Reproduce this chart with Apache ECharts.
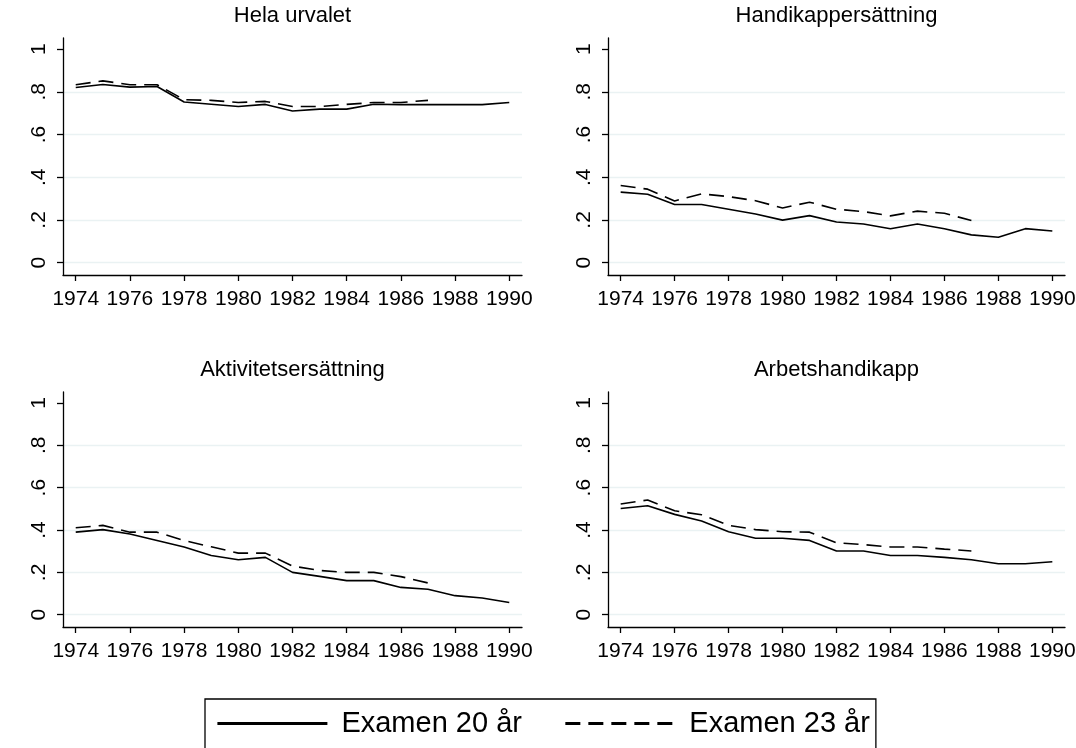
<!DOCTYPE html>
<html lang="sv">
<head>
<meta charset="utf-8">
<title>Andel per examensår</title>
<script src="https://cdn.jsdelivr.net/npm/echarts@6/dist/echarts.min.js"></script>
</head>
<body style="margin:0">
<div id="chart" style="width:1076px;height:748px;"></div>
<script type="text/javascript">
    var years = [1974, 1975, 1976, 1977, 1978, 1979, 1980, 1981, 1982, 1983, 1984, 1985, 1986, 1987, 1988, 1989, 1990];
    var yearTicks = [1974, 1976, 1978, 1980, 1982, 1984, 1986, 1988, 1990];
    var yTicks = [0, 0.2, 0.4, 0.6, 0.8, 1];
    var gridTicks = [0, 0.2, 0.4, 0.6, 0.8];
    var panelTitles = ['Hela urvalet', 'Handikappersättning', 'Aktivitetsersättning', 'Arbetshandikapp'];
    var seriesNames = ['Examen 20 år', 'Examen 23 år'];

    // Examen 20 år: 1974-1990, Examen 23 år: 1974-1987
    var hela20 = [0.82, 0.834, 0.822, 0.825, 0.752, 0.742, 0.731, 0.741, 0.71, 0.719, 0.719, 0.742, 0.74, 0.74, 0.74, 0.74, 0.75];
    var hela23 = [0.833, 0.851, 0.833, 0.833, 0.763, 0.76, 0.75, 0.755, 0.731, 0.731, 0.741, 0.75, 0.75, 0.76];
    var handikapp20 = [0.33, 0.32, 0.272, 0.272, 0.25, 0.228, 0.199, 0.22, 0.19, 0.181, 0.159, 0.181, 0.159, 0.13, 0.119, 0.159, 0.148];
    var handikapp23 = [0.361, 0.344, 0.289, 0.322, 0.309, 0.29, 0.256, 0.283, 0.25, 0.239, 0.219, 0.241, 0.231, 0.197];
    var aktivitet20 = [0.39, 0.402, 0.381, 0.351, 0.32, 0.28, 0.26, 0.271, 0.2, 0.181, 0.161, 0.161, 0.129, 0.12, 0.09, 0.079, 0.058];
    var aktivitet23 = [0.411, 0.422, 0.39, 0.39, 0.35, 0.321, 0.291, 0.291, 0.23, 0.209, 0.2, 0.2, 0.18, 0.15];
    var arbets20 = [0.502, 0.515, 0.474, 0.443, 0.392, 0.361, 0.361, 0.351, 0.301, 0.301, 0.28, 0.28, 0.271, 0.26, 0.241, 0.241, 0.25];
    var arbets23 = [0.523, 0.542, 0.491, 0.472, 0.422, 0.402, 0.392, 0.39, 0.34, 0.331, 0.32, 0.32, 0.31, 0.301];

    var panelData = [[hela20, hela23], [handikapp20, handikapp23], [aktivitet20, aktivitet23], [arbets20, arbets23]];

    var font = 'Liberation Sans, Arial, sans-serif';
    var grids = [
        {left: 63, top: 38, width: 459, height: 237},
        {left: 608, top: 38, width: 457, height: 237},
        {left: 63, top: 392, width: 459, height: 235},
        {left: 608, top: 392, width: 457, height: 235}
    ];

    function pairs(vals) {
        return vals.map(function (v, i) { return [years[i], v]; });
    }

    var option = {
        backgroundColor: '#fff',
        animation: false,
        title: [],
        grid: [],
        xAxis: [],
        yAxis: [],
        series: [],
        legend: {
            data: seriesNames,
            left: 205,
            top: 699,
            orient: 'horizontal',
            borderColor: '#000',
            borderWidth: 1.3,
            padding: [10, 6, 60, 11],
            itemWidth: 110,
            itemHeight: 29,
            itemGap: 42,
            selectedMode: false,
            lineStyle: {width: 2.8},
            itemStyle: {color: 'rgba(0,0,0,0)', borderColor: 'rgba(0,0,0,0)', borderWidth: 0},
            textStyle: {fontSize: 29, color: '#000', fontFamily: font, padding: [0, 0, 0, 9]}
        }
    };

    grids.forEach(function (g, i) {
        option.grid.push({left: g.left, top: g.top, width: g.width, height: g.height, outerBoundsMode: 'none'});
        option.title.push({
            text: panelTitles[i],
            left: g.left + g.width / 2,
            top: g.top - 33,
            textAlign: 'center',
            padding: 0,
            textStyle: {fontSize: 22, fontWeight: 'normal', color: '#000', fontFamily: font}
        });
        option.xAxis.push({
            type: 'value',
            gridIndex: i,
            min: 1973.53,
            max: 1990.47,
            axisLine: {onZero: false, lineStyle: {color: '#000', width: 1.3}},
            axisTick: {customValues: yearTicks, length: 6, lineStyle: {color: '#000', width: 1.3}},
            axisLabel: {
                customValues: yearTicks, fontSize: 21, color: '#000', margin: 14, fontFamily: font,
                formatter: function (v) { return String(v); }
            },
            splitLine: {show: false}
        });
        option.yAxis.push({
            type: 'value',
            gridIndex: i,
            min: -0.058,
            max: 1.052,
            axisLine: {show: true, onZero: false, lineStyle: {color: '#000', width: 1.3}},
            axisTick: {show: true, customValues: yTicks, length: 6, lineStyle: {color: '#000', width: 1.3}},
            axisLabel: {
                customValues: yTicks, rotate: 90, fontSize: 21, color: '#000', margin: 13, fontFamily: font,
                formatter: function (v) { return v === 0 ? '0' : v === 1 ? '1' : String(+v.toFixed(1)).replace('0.', '.'); }
            },
            splitLine: {show: false}
        });
        // gridlines only (no line at 1)
        option.yAxis.push({
            type: 'value',
            gridIndex: i,
            min: -0.058,
            max: 1.052,
            position: 'left',
            axisLine: {show: false},
            axisTick: {show: false, customValues: gridTicks},
            axisLabel: {show: false},
            splitLine: {show: true, lineStyle: {color: '#eaf2f3', width: 1.3}}
        });
        panelData[i].forEach(function (vals, k) {
            option.series.push({
                name: seriesNames[k],
                type: 'line',
                xAxisIndex: i,
                yAxisIndex: i * 2,
                symbol: 'none',
                z: 3,
                lineStyle: {color: '#000', width: 1.6, type: k === 0 ? 'solid' : [15, 8]},
                itemStyle: {color: '#000'},
                data: pairs(vals)
            });
        });
    });

    var chart = echarts.init(document.getElementById('chart'));
    chart.setOption(option);
</script>
</body>
</html>
